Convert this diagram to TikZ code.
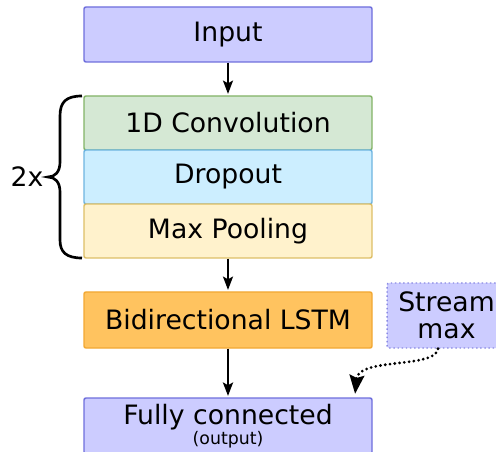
\documentclass[tikz,border=0pt]{standalone}
\usepackage{fontspec}
\setmainfont{DejaVu Sans}
\usepackage{tikz}
\usetikzlibrary{arrows.meta, positioning, calc}
\usepackage{xcolor}

\definecolor{lavfill}{HTML}{CCCCFF}
\definecolor{lavline}{HTML}{6E6EDC}
\definecolor{convfill}{HTML}{D5E8D4}
\definecolor{convline}{HTML}{82B366}
\definecolor{dropfill}{HTML}{CCEEFF}
\definecolor{dropline}{HTML}{6EB4E0}
\definecolor{poolfill}{HTML}{FFF2CC}
\definecolor{poolline}{HTML}{DDBE66}
\definecolor{lstmfill}{HTML}{FFC35F}
\definecolor{lstmline}{HTML}{F2A833}

\begin{document}
\begin{tikzpicture}[x=0.75pt, y=-0.75pt, >=Stealth,
    layer/.style={draw, line width=1.1pt, rounded corners=1.5pt, minimum width=216pt,
        minimum height=40.5pt, inner sep=0pt, font=\fontsize{20}{24}\selectfont},
    flow/.style={->, line width=1.5pt, shorten >=1pt, arrows={-Stealth[length=10pt, width=7.5pt, inset=2pt]}}]
        \clip (0,0) rectangle (496,452);
        \node[layer, fill=lavfill, draw=lavline, minimum height=41.25pt] (input) at (228,34.5) {Input};
        \node[layer, fill=convfill, draw=convline] (conv) at (228,123) {1D Convolution};
        \node[layer, fill=dropfill, draw=dropline] (drop) at (228,177) {Dropout};
        \node[layer, fill=poolfill, draw=poolline] (pool) at (228,231) {Max Pooling};
        \node[layer, fill=lstmfill, draw=lstmline, minimum height=42pt] (lstm) at (228,320) {Bidirectional LSTM};
        \node[layer, fill=lavfill, draw=lavline!80, dotted, minimum width=89pt, minimum height=48.75pt,
            align=center, font=\fontsize{20}{20}\selectfont] (smax) at (446.5,315.5) {Stream\\max};
        \node[layer, fill=lavfill, draw=lavline, minimum height=42pt, align=center] (fc) at (228,426)
            {Fully connected\\[-9pt]{\fontsize{13}{14}\selectfont (output)}};
        \coordinate (smaxout) at ($(smax.south)+(-8.5,0)$);
        \coordinate (fcin) at ($(fc.north east)+(-18,0)$);
        \draw[flow] (input) -- (conv);
        \draw[flow] (pool) -- (lstm);
        \draw[flow, line width=2.2pt] (lstm) -- (fc);
        \draw[line width=2.3pt, dash pattern=on 0pt off 3.6pt, line cap=round, shorten >=1pt,
            arrows={-Stealth[length=14pt, width=11pt, inset=2pt, line cap=butt, sep]}]
            (smaxout) .. controls ($(smaxout)+(-2,20)$) and ($(fcin)+(4,-40)$) .. (fcin);
        % brace for the repeated block
        \draw[line width=2pt] (82,96) .. controls (66,96) and (60,102) .. (60,116) -- (60,162)
            .. controls (60,172) and (55,177) .. (48,177) .. controls (55,177) and (60,182) .. (60,192)
            -- (60,240) .. controls (60,252) and (66,258) .. (82,258);
        \node[font=\fontsize{20}{24}\selectfont] (reps) at (27,177) {2x};
    \end{tikzpicture}
\end{document}
